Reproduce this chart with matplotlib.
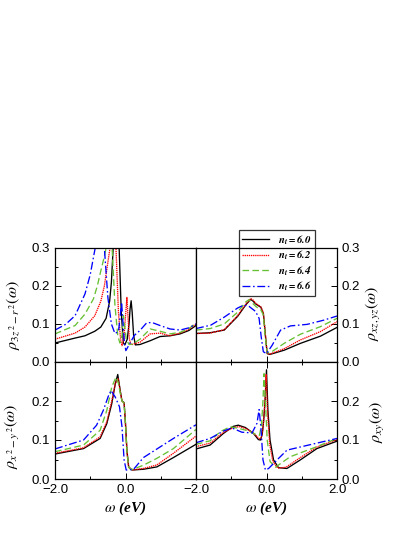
import numpy as np
import matplotlib
matplotlib.use("Agg")
import matplotlib.pyplot as plt
from matplotlib.ticker import MultipleLocator, FixedLocator, FuncFormatter

plt.rcParams['font.family'] = ['Liberation Sans', 'DejaVu Sans']
plt.rcParams['mathtext.fontset'] = 'stix'
plt.rcParams['axes.unicode_minus'] = True

# densities, omega in eV
# --- rho_{3z^2-r^2} ---
W3Z_60 = [-2.0, -1.43, -1.15, -0.87, -0.7, -0.55, -0.45, -0.4, -0.35, -0.3, -0.26, -0.22, -0.18, -0.12,
          -0.06, -0.02, 0.05, 0.1, 0.13, 0.16, 0.19, 0.23, 0.28, 0.41, 0.7, 0.98, 1.26, 1.55, 1.8, 2.0]
R3Z_60 = [0.05, 0.063, 0.069, 0.081, 0.092, 0.115, 0.16, 0.21, 0.3, 0.5, 0.6, 0.5, 0.3, 0.13,
          0.05, 0.045, 0.06, 0.1, 0.14, 0.161, 0.13, 0.07, 0.045, 0.046, 0.056, 0.067, 0.069, 0.074, 0.083,
          0.096]
W3Z_62 = [-2.0, -1.43, -1.15, -0.87, -0.7, -0.6, -0.52, -0.44, -0.39, -0.35, -0.31, -0.27, -0.2, -0.14,
          -0.1, -0.05, 0.0, 0.04, 0.07, 0.11, 0.16, 0.25, 0.41, 0.7, 0.98, 1.26, 1.55, 1.8, 2.0]
R3Z_62 = [0.06, 0.076, 0.092, 0.122, 0.16, 0.2, 0.25, 0.3, 0.5, 0.6, 0.5, 0.3, 0.13, 0.06,
          0.043, 0.06, 0.12, 0.17, 0.12, 0.06, 0.045, 0.048, 0.052, 0.074, 0.076, 0.069, 0.076, 0.086, 0.1]
W3Z_64 = [-2.0, -1.43, -1.15, -0.91, -0.8, -0.7, -0.62, -0.55, -0.5, -0.46, -0.42, -0.38, -0.3, -0.22,
          -0.16, -0.1, -0.06, -0.03, 0.02, 0.1, 0.2, 0.41, 0.7, 0.98, 1.26, 1.55, 1.8, 2.0]
R3Z_64 = [0.074, 0.096, 0.126, 0.166, 0.2, 0.24, 0.27, 0.3, 0.5, 0.6, 0.5, 0.3, 0.15, 0.07,
          0.05, 0.07, 0.122, 0.1, 0.06, 0.046, 0.047, 0.06, 0.087, 0.081, 0.074, 0.078, 0.088, 0.103]
W3Z_66 = [-2.0, -1.7, -1.43, -1.15, -1.0, -0.86, -0.78, -0.72, -0.66, -0.6, -0.5, -0.4, -0.3, -0.2,
          -0.15, -0.11, -0.07, -0.03, 0.01, 0.1, 0.25, 0.41, 0.6, 0.75, 0.98, 1.26, 1.55, 1.8, 2.0]
R3Z_66 = [0.084, 0.099, 0.122, 0.179, 0.23, 0.3, 0.45, 0.5, 0.45, 0.3, 0.17, 0.1, 0.075, 0.08,
          0.12, 0.157, 0.1, 0.05, 0.03, 0.045, 0.07, 0.083, 0.103, 0.104, 0.096, 0.087, 0.084, 0.09, 0.1]

# --- rho_{xz,yz} ---
WXZ_60 = [-2.0, -1.6, -1.2, -0.82, -0.59, -0.45, -0.38, -0.31, -0.16, -0.09, -0.04, -0.02, 0.02, 0.1,
          0.5, 0.96, 1.53, 2.0]
RXZ_60 = [0.075, 0.077, 0.084, 0.12, 0.15, 0.165, 0.16, 0.153, 0.144, 0.128, 0.08, 0.058, 0.022, 0.02,
          0.031, 0.049, 0.068, 0.091]
WXZ_62 = [-2.0, -1.6, -1.2, -0.82, -0.59, -0.45, -0.38, -0.31, -0.16, -0.09, -0.04, 0.02, 0.1,
          0.5, 0.96, 1.53, 2.0]
RXZ_62 = [0.075, 0.076, 0.085, 0.122, 0.152, 0.167, 0.163, 0.155, 0.145, 0.13, 0.08, 0.022, 0.021,
          0.035, 0.058, 0.08, 0.106]
WXZ_64 = [-2.0, -1.6, -1.2, -0.82, -0.59, -0.5, -0.4, -0.3, -0.16, -0.09, -0.04, 0.02, 0.15,
          0.5, 0.96, 1.53, 2.0]
RXZ_64 = [0.084, 0.088, 0.1, 0.131, 0.158, 0.164, 0.155, 0.146, 0.137, 0.124, 0.07, 0.024, 0.027,
          0.049, 0.073, 0.093, 0.115]
WXZ_66 = [-2.0, -1.58, -1.2, -0.82, -0.64, -0.49, -0.31, -0.21, -0.15, -0.09, 0.0, 0.16, 0.4, 0.68,
          1.15, 1.62, 2.0]
RXZ_66 = [0.088, 0.097, 0.118, 0.142, 0.15, 0.146, 0.133, 0.115, 0.066, 0.027, 0.022, 0.044, 0.084, 0.095,
          0.099, 0.11, 0.121]

# --- rho_{x^2-y^2} ---
WX2_60 = [-2.0, -1.19, -0.72, -0.53, -0.39, -0.29, -0.22, -0.15, -0.1, -0.04, 0.0, 0.04, 0.09, 0.18,
          0.51, 0.89, 1.36, 2.0]
RX2_60 = [0.064, 0.078, 0.104, 0.142, 0.193, 0.244, 0.268, 0.227, 0.2, 0.196, 0.142, 0.074, 0.031, 0.023,
          0.025, 0.031, 0.055, 0.089]
WX2_62 = [-2.0, -1.19, -0.72, -0.53, -0.39, -0.29, -0.21, -0.15, -0.1, -0.04, 0.0, 0.04, 0.09, 0.18,
          0.51, 0.89, 1.36, 2.0]
RX2_62 = [0.066, 0.08, 0.108, 0.147, 0.2, 0.245, 0.257, 0.225, 0.2, 0.195, 0.14, 0.07, 0.03, 0.023,
          0.027, 0.036, 0.066, 0.11]
WX2_64 = [-2.0, -1.19, -0.72, -0.53, -0.39, -0.27, -0.2, -0.15, -0.1, -0.04, 0.0, 0.04, 0.09, 0.18,
          0.5, 0.89, 1.36, 2.0]
RX2_64 = [0.07, 0.087, 0.125, 0.176, 0.236, 0.261, 0.245, 0.22, 0.2, 0.195, 0.14, 0.07, 0.03, 0.024,
          0.035, 0.053, 0.078, 0.127]
WX2_66 = [-2.0, -1.19, -0.82, -0.63, -0.48, -0.41, -0.29, -0.17, -0.1, -0.04, 0.02, 0.23, 0.51, 1.36, 2.0]
RX2_66 = [0.077, 0.1, 0.138, 0.176, 0.214, 0.227, 0.21, 0.185, 0.134, 0.049, 0.023, 0.025, 0.055, 0.104, 0.139]

# --- rho_{xy} ---
WXY_60 = [-2.0, -1.6, -1.22, -0.94, -0.8, -0.6, -0.37, -0.23, -0.17, -0.12, -0.08, -0.04, 0.0, 0.04,
          0.1, 0.2, 0.34, 0.58, 0.96, 1.43, 2.0]
RXY_60 = [0.077, 0.087, 0.117, 0.135, 0.138, 0.132, 0.117, 0.101, 0.1, 0.115, 0.15, 0.2, 0.28, 0.176,
          0.1, 0.049, 0.029, 0.027, 0.049, 0.078, 0.097]
WXY_62 = [-2.0, -1.6, -1.22, -0.9, -0.75, -0.55, -0.35, -0.2, -0.15, -0.1, -0.05, -0.01, 0.03,
          0.09, 0.18, 0.32, 0.55, 0.96, 1.43, 2.0]
RXY_62 = [0.083, 0.092, 0.12, 0.133, 0.134, 0.128, 0.116, 0.103, 0.105, 0.13, 0.19, 0.268, 0.17,
          0.09, 0.045, 0.028, 0.03, 0.055, 0.082, 0.101]
WXY_64 = [-2.0, -1.6, -1.3, -1.03, -0.8, -0.5, -0.3, -0.2, -0.14, -0.1, -0.07, -0.03, 0.02, 0.1,
          0.25, 0.67, 1.43, 2.0]
RXY_64 = [0.089, 0.098, 0.122, 0.134, 0.13, 0.123, 0.114, 0.112, 0.14, 0.2, 0.27, 0.2, 0.1, 0.045,
          0.03, 0.057, 0.083, 0.104]
WXY_66 = [-2.0, -1.6, -1.22, -0.98, -0.7, -0.41, -0.27, -0.21, -0.16, -0.1, -0.03, 0.06, 0.3, 0.58,
          1.05, 2.0]
RXY_66 = [0.093, 0.104, 0.123, 0.131, 0.12, 0.118, 0.143, 0.178, 0.134, 0.049, 0.023, 0.027, 0.049, 0.074,
          0.084, 0.104]

LABELS = ['6.0', '6.2', '6.4', '6.6']
COLORS = ['black', '#ff0000', '#66c033', '#0000ff']
STYLES = ['-', (0, (1, 0.6)), (0, (5, 2.5)), (0, (6, 2, 1.2, 2))]

panels = [
    ([W3Z_60, W3Z_62, W3Z_64, W3Z_66], [R3Z_60, R3Z_62, R3Z_64, R3Z_66]),
    ([WXZ_60, WXZ_62, WXZ_64, WXZ_66], [RXZ_60, RXZ_62, RXZ_64, RXZ_66]),
    ([WX2_60, WX2_62, WX2_64, WX2_66], [RX2_60, RX2_62, RX2_64, RX2_66]),
    ([WXY_60, WXY_62, WXY_64, WXY_66], [RXY_60, RXY_62, RXY_64, RXY_66]),
]

fig = plt.figure(figsize=(4.15, 5.37), dpi=100)
xl, xr, w = 55 / 415, 196 / 415, 141 / 415
rects = [
    (xl, 1 - 362 / 537, w, 114 / 537),
    (xr, 1 - 362 / 537, w, 114 / 537),
    (xl, 1 - 479 / 537, w, 117 / 537),
    (xr, 1 - 479 / 537, w, 117 / 537),
]
ylabels = [r'$\rho_{3z^{\,2}-r^{\,2}}(\omega)$', r'$\rho_{xz,yz}(\omega)$',
           r'$\rho_{x^{\,2}-y^{\,2}}(\omega)$', r'$\rho_{xy}(\omega)$']
ylab_pos = [(-0.235, 0.41), (1.19, 0.43), (-0.235, 0.36), (1.22, 0.49)]

fmt = FuncFormatter(lambda v, p: ('%.1f' % v).replace('-', '\u2212'))

axes = []
for i, (rect, (ws, rs)) in enumerate(zip(rects, panels)):
    ax = fig.add_axes(rect)
    axes.append(ax)
    for wv, rv, lab, c, ls in zip(ws, rs, LABELS, COLORS, STYLES):
        ax.plot(wv, rv, color=c, linestyle=ls, lw=0.95,
                label=r'$\mathbfit{n}_{\mathbfit{t}}\mathbfit{=' + lab + '}$')
    ax.set_xlim(-2, 2)
    ax.set_ylim(0, 0.3)
    ax.xaxis.set_major_locator(MultipleLocator(2))
    ax.xaxis.set_minor_locator(MultipleLocator(1))
    ax.yaxis.set_minor_locator(MultipleLocator(0.05))
    ax.tick_params(which='both', direction='in', labelsize=9.5, width=0.7)
    ax.tick_params(which='major', length=4)
    ax.tick_params(which='minor', length=2.5)
    for s in ax.spines.values():
        s.set_linewidth(0.9)
    if i < 2:
        ax.yaxis.set_major_locator(FixedLocator([0.0, 0.1, 0.2, 0.3]))
        ax.tick_params(axis='x', labelbottom=False)
    else:
        ax.yaxis.set_major_locator(FixedLocator([0.0, 0.1, 0.2]))
        ax.tick_params(axis='x', top=True, which='both')
        ax.set_xlabel(r'$\omega$ (eV)', fontsize=11, family='Liberation Serif',
                      fontweight='bold', style='italic', labelpad=3)
    if i == 2:
        ax.xaxis.set_major_locator(FixedLocator([-2.0, 0.0]))
    ax.xaxis.set_major_formatter(fmt)
    ax.yaxis.set_major_formatter(fmt)
    if i % 2 == 1:
        ax.yaxis.tick_right()
        ax.yaxis.set_label_position('right')
        ax.tick_params(axis='y', which='both', left=False)
    ax.set_ylabel(ylabels[i], fontsize=11.5)
    ax.yaxis.set_label_coords(*ylab_pos[i])

leg = axes[1].legend(loc='upper left', bbox_to_anchor=(239 / 415, 1 - 230 / 537),
                     bbox_transform=fig.transFigure, borderaxespad=0, fontsize=7.8,
                     frameon=True, fancybox=False, edgecolor='black', facecolor='none',
                     handlelength=2.5, labelspacing=0.18, borderpad=0.3, handletextpad=0.8)
leg.get_frame().set_linewidth(0.9)

fig.savefig('out.png', dpi=100)
